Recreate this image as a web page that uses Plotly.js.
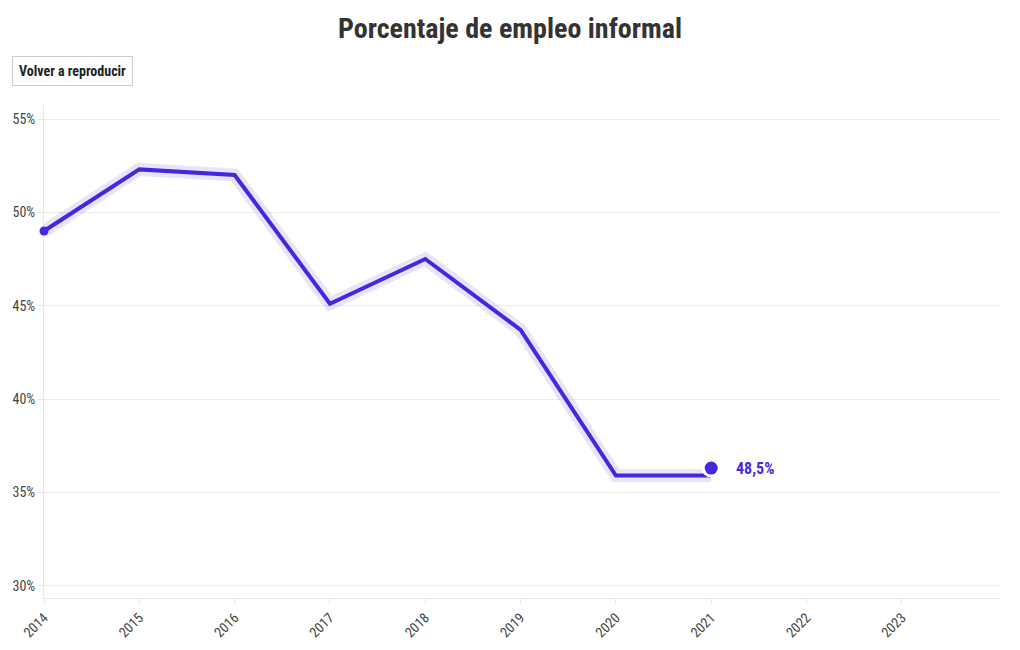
<!DOCTYPE html>
<html>
<head>
<meta charset="utf-8">
<script src="https://cdn.plot.ly/plotly-3.0.1.min.js"></script>
<style>
  html, body { margin: 0; padding: 0; background: #fff; }
  #chart { width: 1020px; height: 650px; }
</style>
</head>
<body>
<div id="chart"></div>
<script>
const years = [2014, 2015, 2016, 2017, 2018, 2019, 2020, 2021];
const informal = [49.0, 52.3, 52.0, 45.1, 47.5, 43.7, 35.9, 35.9];
const lastYear = [2021];
const lastValue = [36.3];
const lastLabel = ['48,5%'];
const tickYears = [2014, 2015, 2016, 2017, 2018, 2019, 2020, 2021, 2022, 2023];
const tickText = ['2014', '2015', '2016', '2017', '2018', '2019', '2020', '2021', '2022', '2023'];
const yTicks = [30, 35, 40, 45, 50, 55];
const yTickText = ['30%', '35%', '40%', '45%', '50%', '55%'];
const buttonLabel = 'Volver a reproducir';

const FONT = '"Roboto Condensed", "Liberation Sans Narrow", "DejaVu Sans Condensed", Roboto, sans-serif';
const BLUE = '#4527e0';

const traces = [
  {
    x: years, y: informal, type: 'scatter', mode: 'lines',
    line: { color: 'rgba(69,39,224,0.12)', width: 13 },
    hoverinfo: 'skip', showlegend: false, cliponaxis: false
  },
  {
    x: years, y: informal, type: 'scatter', mode: 'lines',
    line: { color: BLUE, width: 4 },
    showlegend: false, cliponaxis: false
  },
  {
    x: [years[0]], y: [informal[0]], type: 'scatter', mode: 'markers',
    marker: { color: BLUE, size: 9 },
    hoverinfo: 'skip', showlegend: false, cliponaxis: false
  },
  {
    x: lastYear, y: lastValue, type: 'scatter', mode: 'markers',
    marker: { color: BLUE, size: 16, line: { color: '#ffffff', width: 3 } },
    showlegend: false, cliponaxis: false
  }
];

const layout = {
  width: 1020, height: 650,
  paper_bgcolor: '#ffffff', plot_bgcolor: '#ffffff',
  margin: { l: 44, r: 20, t: 105, b: 52 },
  font: { family: FONT, color: '#444' },
  title: {
    text: '<b>Porcentaje de empleo informal</b>',
    font: { family: FONT, size: 28, color: '#333' },
    x: 0.5, xanchor: 'center', y: 0.957, yanchor: 'middle'
  },
  xaxis: {
    range: [2014, 2024.03],
    tickvals: tickYears, ticktext: tickText,
    tickangle: -45,
    tickfont: { family: FONT, size: 14, color: '#444' },
    showgrid: false, zeroline: false,
    showline: true, linecolor: '#e8e8e8', linewidth: 1,
    ticks: 'outside', ticklen: 5, tickcolor: '#e8e8e8',
    layer: 'below traces'
  },
  yaxis: {
    range: [29.34, 55.75],
    tickvals: yTicks, ticktext: yTickText,
    tickfont: { family: FONT, size: 14, color: '#444' },
    showgrid: true, gridcolor: '#ececec', gridwidth: 1,
    zeroline: false,
    showline: true, linecolor: '#e8e8e8', linewidth: 1,
    ticks: 'outside', ticklen: 5, tickcolor: '#e8e8e8',
    layer: 'below traces'
  },
  annotations: [
    {
      x: lastYear[0], y: lastValue[0], xref: 'x', yref: 'y',
      text: '<b>' + lastLabel[0] + '</b>', showarrow: false,
      xanchor: 'left', yanchor: 'middle', xshift: 23,
      font: { family: FONT, size: 16, color: BLUE }
    },
    {
      x: -32 / 956, y: 1 + 33.5 / 493, xref: 'paper', yref: 'paper',
      text: '<b>' + buttonLabel + '</b>', showarrow: false,
      xanchor: 'left', yanchor: 'middle',
      font: { family: FONT, size: 14, color: '#222' },
      bgcolor: '#ffffff', bordercolor: '#cccccc', borderwidth: 1, borderpad: 6
    }
  ]
};

Plotly.newPlot('chart', traces, layout, { displayModeBar: false });
</script>
</body>
</html>
